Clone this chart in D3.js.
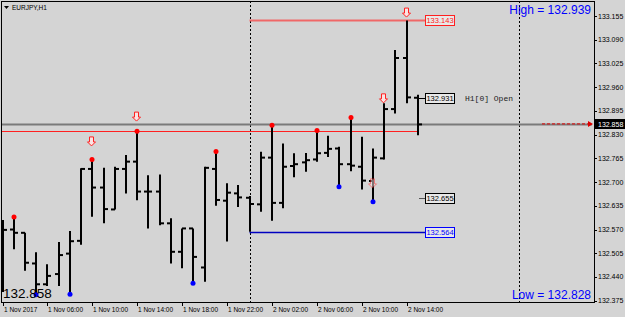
<!DOCTYPE html>
<html>
<head>
<meta charset="utf-8">
<script src="https://cdn.jsdelivr.net/npm/d3@7"></script>
<style>
    body { margin: 0; background: #d4d4d4; }
    svg { display: block; }
</style>
</head>
<body>
<div id="chart"></div>
<script>
const width = 625;
const height = 317;

// EURJPY H1 bars, 1 Nov 02:00 .. 2 Nov 15:00
const opens  = [132.569, 132.570, 132.561, 132.477, 132.420, 132.448, 132.504, 132.539, 132.736, 132.685,
                132.625, 132.736, 132.756, 132.674, 132.674, 132.587, 132.509, 132.573, 132.466, 132.736,
                132.649, 132.669, 132.657, 132.639, 132.767, 132.643, 132.744, 132.754, 132.762, 132.780,
                132.792, 132.749, 132.742, 132.703, 132.765, 132.900, 133.040, 132.931];
const highs  = [132.596, 132.604, 132.561, 132.508, 132.475, 132.536, 132.566, 132.738, 132.762, 132.739,
                132.742, 132.774, 132.839, 132.719, 132.721, 132.601, 132.573, 132.573, 132.742, 132.784,
                132.697, 132.692, 132.662, 132.783, 132.856, 132.806, 132.779, 132.780, 132.841, 132.827,
                132.797, 132.877, 132.824, 132.792, 132.916, 133.062, 133.143, 132.939];
const lows   = [132.399, 132.516, 132.457, 132.391, 132.415, 132.415, 132.393, 132.528, 132.605, 132.587,
                132.625, 132.669, 132.650, 132.573, 132.582, 132.477, 132.464, 132.423, 132.427, 132.635,
                132.537, 132.632, 132.564, 132.619, 132.594, 132.628, 132.713, 132.728, 132.756, 132.769,
                132.687, 132.730, 132.680, 132.646, 132.762, 132.888, 132.916, 132.828];
const closes = [132.569, 132.561, 132.479, 132.420, 132.443, 132.500, 132.538, 132.736, 132.685, 132.626,
                132.736, 132.756, 132.674, 132.674, 132.587, 132.509, 132.573, 132.495, 132.739, 132.651,
                132.671, 132.658, 132.640, 132.767, 132.643, 132.742, 132.749, 132.760, 132.779, 132.791,
                132.749, 132.745, 132.704, 132.767, 132.900, 133.040, 132.932, 132.858];

const timeLabels = ["1 Nov 2017", "1 Nov 06:00", "1 Nov 10:00", "1 Nov 14:00", "1 Nov 18:00",
                    "1 Nov 22:00", "2 Nov 02:00", "2 Nov 06:00", "2 Nov 10:00", "2 Nov 14:00"];
const timeIdx = [0, 4, 8, 12, 16, 20, 24, 28, 32, 36];

const priceTicks = [133.155, 133.090, 133.025, 132.960, 132.895, 132.830, 132.765,
                    132.700, 132.635, 132.570, 132.505, 132.440, 132.375];

const highDots = [1, 8, 12, 19, 24, 28, 31];
const lowDots = [3, 6, 17, 30, 33];
const arrowIdx = [8, 12, 33, 34, 36];
const arrowPrice = [132.810, 132.878, 132.695, 132.928, 133.163];

const daySeparators = [22, 46];
const prevDayHigh = 132.840;
const dayHigh = 133.143;
const dayLow = 132.564;
const levelPrice = 132.655;
const openPrice = 132.931;
const lastPrice = 132.858;

const plot = { left: 1, top: 1, right: 594, bottom: 302 };

const x = d3.scaleLinear().domain([0, 46]).range([2.5, 519]);
const y = d3.scaleLinear().domain([132.375, 133.155]).range([300.7, 16]);

const svg = d3.select('#chart')
    .append('svg')
    .attr('width', width)
    .attr('height', height)
    .style('font-family', 'Liberation Sans, Arial, sans-serif');

svg.append('rect')
    .attr('width', width)
    .attr('height', height)
    .attr('fill', '#d4d4d4');

svg.append('clipPath')
    .attr('id', 'clip')
    .append('rect')
    .attr('x', plot.left + 1)
    .attr('y', plot.top + 1)
    .attr('width', plot.right - plot.left - 1)
    .attr('height', plot.bottom - plot.top - 1);

const g = svg.append('g').attr('clip-path', 'url(#clip)');

// day separators
g.selectAll('.sep')
    .data(daySeparators)
    .enter()
    .append('line')
    .attr('x1', d => Math.round(x(d)) + 0.5)
    .attr('x2', d => Math.round(x(d)) + 0.5)
    .attr('y1', plot.top)
    .attr('y2', plot.bottom)
    .attr('stroke', '#000')
    .attr('stroke-dasharray', '2,2');

// horizontal levels
g.append('line')
    .attr('x1', plot.left).attr('x2', plot.right - 2)
    .attr('y1', y(lastPrice)).attr('y2', y(lastPrice))
    .attr('stroke', '#7a7a7a').attr('stroke-width', 2);

g.append('line')
    .attr('x1', plot.left).attr('x2', x(37))
    .attr('y1', Math.round(y(prevDayHigh)) + 0.5).attr('y2', Math.round(y(prevDayHigh)) + 0.5)
    .attr('stroke', '#ff2020').attr('stroke-width', 1);

g.append('line')
    .attr('x1', x(22)).attr('x2', 425)
    .attr('y1', y(dayHigh)).attr('y2', y(dayHigh))
    .attr('stroke', '#f06868').attr('stroke-width', 2);

g.append('line')
    .attr('x1', x(22)).attr('x2', 426)
    .attr('y1', Math.round(y(dayLow)) + 0.5).attr('y2', Math.round(y(dayLow)) + 0.5)
    .attr('stroke', '#0000c0').attr('stroke-width', 1.5);

// red dashed price arrow on the right
g.append('line')
    .attr('x1', 542).attr('x2', 588)
    .attr('y1', y(lastPrice) - 0.5).attr('y2', y(lastPrice) - 0.5)
    .attr('stroke', '#e00000')
    .attr('stroke-dasharray', '3,2');
g.append('path')
    .attr('d', `M588,${y(lastPrice) - 3.5}L593,${y(lastPrice) - 0.5}L588,${y(lastPrice) + 2.5}Z`)
    .attr('fill', '#e00000');

// OHLC bars
const bars = g.selectAll('.bar')
    .data(opens.map((o, i) => ({ i: i, o: o, h: highs[i], l: lows[i], c: closes[i] })))
    .enter()
    .append('g')
    .attr('class', 'bar');

bars.append('line')
    .attr('x1', d => Math.round(x(d.i)))
    .attr('x2', d => Math.round(x(d.i)))
    .attr('y1', d => y(d.h))
    .attr('y2', d => y(d.l))
    .attr('stroke', '#000')
    .attr('stroke-width', 2);

bars.append('line')
    .attr('x1', d => Math.round(x(d.i)) - 4)
    .attr('x2', d => Math.round(x(d.i)))
    .attr('y1', d => y(d.o))
    .attr('y2', d => y(d.o))
    .attr('stroke', '#000')
    .attr('stroke-width', 2);

bars.append('line')
    .attr('x1', d => Math.round(x(d.i)))
    .attr('x2', d => Math.round(x(d.i)) + 4)
    .attr('y1', d => y(d.c))
    .attr('y2', d => y(d.c))
    .attr('stroke', '#000')
    .attr('stroke-width', 2);

// fractal dots
g.selectAll('.hdot')
    .data(highDots)
    .enter()
    .append('circle')
    .attr('cx', d => Math.round(x(d)))
    .attr('cy', d => y(highs[d]))
    .attr('r', 2.5)
    .attr('fill', '#ff0000');

g.selectAll('.ldot')
    .data(lowDots)
    .enter()
    .append('circle')
    .attr('cx', d => Math.round(x(d)))
    .attr('cy', d => y(lows[d]))
    .attr('r', 2.5)
    .attr('fill', '#0000ff');

// hollow down arrows
g.selectAll('.arrow')
    .data(arrowIdx)
    .enter()
    .append('path')
    .attr('d', (d, k) => {
        const ax = Math.round(x(d)) - 0.5;
        const ay = y(arrowPrice[k]);
        return `M${ax - 2},${ay - 5}L${ax + 2},${ay - 5}L${ax + 2},${ay}L${ax + 4},${ay}` +
            `L${ax},${ay + 4}L${ax - 4},${ay}L${ax - 2},${ay}Z`;
    })
    .attr('fill', '#fbe4e4')
    .attr('stroke', '#ff2020')
    .attr('stroke-width', 1)
    .attr('opacity', (d, k) => k === 2 ? 0.5 : 1);

// price label boxes
const boxes = [
    { price: dayHigh, color: '#ff2020' },
    { price: openPrice, color: '#000' },
    { price: levelPrice, color: '#000' },
    { price: dayLow, color: '#0000ff' }
];

boxes.forEach(b => {
    const by = Math.round(y(b.price));
    if (b.price === openPrice || b.price === levelPrice) {
        svg.append('line')
            .attr('x1', b.price === openPrice ? 418 : 419).attr('x2', 426)
            .attr('y1', by + 0.5).attr('y2', by + 0.5)
            .attr('stroke', b.price === levelPrice ? '#555' : '#000');
    }
    svg.append('rect')
        .attr('x', 425.5).attr('y', by - 4.5)
        .attr('width', 29).attr('height', 10)
        .attr('fill', '#e8e8e8')
        .attr('stroke', b.color);
    svg.append('text')
        .attr('x', 440).attr('y', by + 3)
        .attr('text-anchor', 'middle')
        .attr('font-size', '7.5px')
        .attr('fill', b.color)
        .text(b.price.toFixed(3));
});

svg.append('text')
    .attr('x', 465).attr('y', Math.round(y(openPrice)) + 3)
    .attr('font-family', 'Liberation Mono, DejaVu Sans Mono, monospace')
    .attr('font-size', '8px')
    .attr('fill', '#222')
    .text('H1[0] Open');

// frame and axes
svg.append('rect')
    .attr('x', plot.left + 0.5).attr('y', plot.top + 0.5)
    .attr('width', plot.right - plot.left).attr('height', plot.bottom - plot.top)
    .attr('fill', 'none')
    .attr('stroke', '#000');

const yAxis = svg.append('g');
yAxis.selectAll('.ytick')
    .data(priceTicks)
    .enter()
    .append('line')
    .attr('x1', plot.right + 0.5).attr('x2', plot.right + 3)
    .attr('y1', d => Math.round(y(d)) + 0.5).attr('y2', d => Math.round(y(d)) + 0.5)
    .attr('stroke', '#000');
yAxis.selectAll('.ylab')
    .data(priceTicks)
    .enter()
    .append('text')
    .attr('x', 598)
    .attr('y', d => y(d) + 2.5)
    .attr('font-size', '7px')
    .attr('fill', '#000')
    .text(d => d.toFixed(3));

svg.append('rect')
    .attr('x', 595).attr('y', Math.round(y(lastPrice)) - 5)
    .attr('width', 30).attr('height', 10)
    .attr('fill', '#000');
svg.append('text')
    .attr('x', 598).attr('y', y(lastPrice) + 2.5)
    .attr('font-size', '7px')
    .attr('fill', '#fff')
    .text(lastPrice.toFixed(3));

const xAxis = svg.append('g');
xAxis.selectAll('.xtick')
    .data(timeIdx)
    .enter()
    .append('line')
    .attr('x1', d => Math.round(x(d)) + 0.5).attr('x2', d => Math.round(x(d)) + 0.5)
    .attr('y1', plot.bottom).attr('y2', plot.bottom + 4)
    .attr('stroke', '#000');
xAxis.selectAll('.xlab')
    .data(timeIdx)
    .enter()
    .append('text')
    .attr('x', d => Math.round(x(d)) + 1)
    .attr('y', 312)
    .attr('font-size', '6.5px')
    .attr('fill', '#000')
    .text((d, k) => timeLabels[k]);

// title and info texts
svg.append('path')
    .attr('d', 'M4,6L9,6L6.5,9Z')
    .attr('fill', '#000');
svg.append('text')
    .attr('x', 12).attr('y', 10)
    .attr('font-size', '6.5px')
    .attr('fill', '#000')
    .text('EURJPY,H1');

svg.append('text')
    .attr('x', 591).attr('y', 14)
    .attr('text-anchor', 'end')
    .attr('font-size', '12px')
    .attr('fill', '#0000ff')
    .text('High = ' + highs[highs.length - 1].toFixed(3));

svg.append('text')
    .attr('x', 591).attr('y', 299)
    .attr('text-anchor', 'end')
    .attr('font-size', '12px')
    .attr('fill', '#0000ff')
    .text('Low = ' + lows[lows.length - 1].toFixed(3));

svg.append('text')
    .attr('x', 3).attr('y', 298)
    .attr('font-size', '13.5px')
    .attr('fill', '#000')
    .text(lastPrice.toFixed(3));
</script>
</body>
</html>
